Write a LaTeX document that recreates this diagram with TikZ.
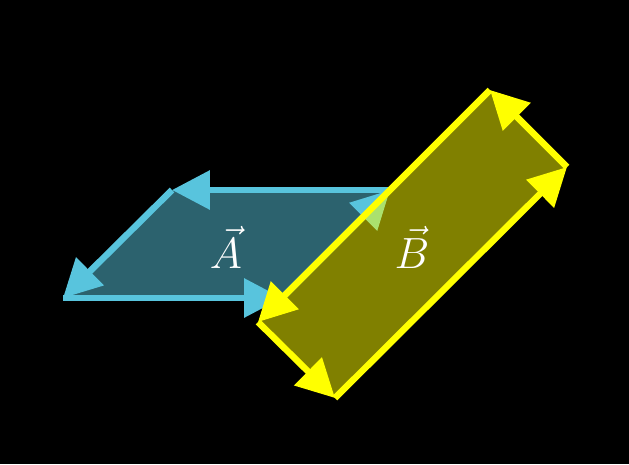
\documentclass[tikz,border=0pt]{standalone}
\usepackage{amsmath}
\usetikzlibrary{arrows.meta}
\definecolor{vecBlue}{HTML}{58C4DD}
\definecolor{vecYellow}{HTML}{FFFF00}

\begin{document}
\begin{tikzpicture}[
    x=0.02cm, y=-0.02cm,
    edge/.style={line width=3.7pt, -{Triangle[length=0.76cm, width=0.76cm]}},
    area/.style={fill opacity=0.5},
    lbl/.style={text=white, font=\fontsize{37}{44}\selectfont}
  ]
    \fill[black] (0,0) rectangle (629,464);

    % parallelogram A
    \coordinate (a1) at (63,298);
    \coordinate (a2) at (282,298);
    \coordinate (a3) at (390,190);
    \coordinate (a4) at (172,190);
    \fill[vecBlue, area] (a1) -- (a2) -- (a3) -- (a4) -- cycle;
    \draw[edge, vecBlue] (a1) -- (a2);
    \draw[edge, vecBlue] (a2) -- (a3);
    \draw[edge, vecBlue] (a3) -- (a4);
    \draw[edge, vecBlue] (a4) -- (a1);
    \node[lbl] (labA) at (226,247) {$\vec{A}$};

    % rectangle B
    \coordinate (b1) at (490,90);
    \coordinate (b2) at (258,322);
    \coordinate (b3) at (335,398);
    \coordinate (b4) at (567,167);
    \fill[vecYellow, area] (b1) -- (b2) -- (b3) -- (b4) -- cycle;
    \draw[edge, vecYellow] (b1) -- (b2);
    \draw[edge, vecYellow] (b2) -- (b3);
    \draw[edge, vecYellow] (b3) -- (b4);
    \draw[edge, vecYellow] (b4) -- (b1);
    \node[lbl] (labB) at (412,247) {$\vec{B}$};
  \end{tikzpicture}
\end{document}
